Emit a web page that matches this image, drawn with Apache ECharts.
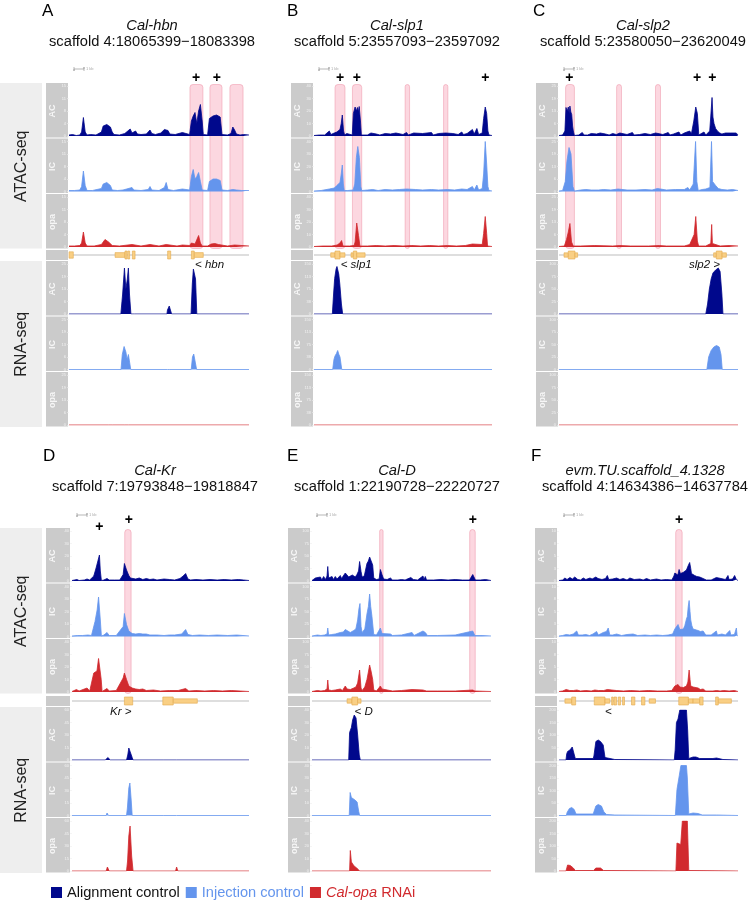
<!DOCTYPE html>
<html>
<head>
<meta charset="utf-8">
<script src="https://cdn.jsdelivr.net/npm/echarts@6/dist/echarts.min.js"></script>
<style>
html, body { margin: 0; padding: 0; background: #fff; }
#chart { width: 748px; height: 900px; }
</style>
</head>
<body>
<div id="chart"></div>
<script>
var letters = ['A', 'B', 'C', 'D', 'E', 'F'];
var geneTitles = ['Cal-hbn', 'Cal-slp1', 'Cal-slp2', 'Cal-Kr', 'Cal-D', 'evm.TU.scaffold_4.1328'];
var regionTitles = [
  'scaffold 4:18065399\u221218083398',
  'scaffold 5:23557093\u221223597092',
  'scaffold 5:23580050\u221223620049',
  'scaffold 7:19793848\u221219818847',
  'scaffold 1:22190728\u221222220727',
  'scaffold 4:14634386\u221214637784'
];
var trackLabels = ['AC', 'IC', 'opa'];
var groupNames = ['Alignment control', 'Injection control', 'Cal-opa RNAi'];

// track axis maxima (tick labels only), signal is % of track height
var atacMax = [15, 40, 25, 40, 100, 10];
var rnaMax = [25, 150, 100, 60, 40, 200];

// [position in window (%), signal (% of track max)]
var hbnAtacAC = [[0,2],[2,3],[4,1],[6,2],[7,8],[8,37],[9,8],[10,2],[12,3],[15,2],[18,8],[19,20],[21,23],[23,18],[24,8],[25,3],[28,2],[31,5],[34,14],[35,6],[37,10],[38,4],[40,3],[43,4],[45,12],[46,5],[48,3],[51,6],[52,10],[53,13],[55,11],[56,4],[59,3],[63,7],[64,3],[67,3],[68,30],[69,40],[70,47],[71,25],[72,50],[73,63],[74,30],[74.6,3],[77,2],[78,35],[80,40],[82,42],[84,38],[85,3],[88,2],[90,5],[91,18],[92,12],[93,4],[95,2],[97,3],[100,2]];
var hbnAtacIC = [[0,2],[3,2],[6,3],[7,10],[8,41],[9,12],[10,2],[13,2],[18,6],[19,15],[21,18],[23,12],[24,3],[27,2],[30,3],[35,8],[36,3],[40,2],[44,4],[45,10],[46,3],[50,2],[53,8],[54,18],[55,4],[58,2],[63,5],[64,2],[67,3],[68,30],[69,44],[70,25],[71,30],[72,38],[73,20],[74,3],[77,2],[78,20],[80,25],[82,25],[84,22],[85,3],[88,2],[91,4],[93,3],[96,2],[100,2]];
var hbnAtacOpa = [[0,2],[3,2],[6,3],[7,8],[8,30],[9,8],[10,2],[14,2],[18,5],[20,15],[22,10],[24,3],[28,2],[35,5],[36,2],[40,2],[45,5],[46,2],[50,2],[54,5],[55,2],[60,2],[63,4],[64,2],[67,3],[68,8],[69,12],[70,6],[71,10],[72,23],[73,8],[74,2],[77,2],[79,6],[81,7],[83,5],[84,2],[88,2],[92,4],[93,2],[100,2]];
var hbnRnaAC = [[0,0],[28.8,0],[29.8,40],[30.8,92],[31.6,50],[32.4,70],[33,92],[33.6,40],[34.4,0],[36.4,0],[36.7,3],[37,0],[54.4,0],[54.7,8],[55.3,10],[55.7,16],[56.6,12],[57,0],[67.8,0],[68.5,60],[69.1,90],[69.6,92],[70.3,70],[71,0],[100,0]];
var hbnRnaIC = [[0,0],[28.9,0],[29.6,30],[30.6,46],[31.6,35],[32.3,20],[33,30],[33.6,28],[34.3,0],[54.7,0],[55.3,3],[56,0],[67.9,0],[68.6,25],[69.3,31],[70.2,28],[70.9,0],[100,0]];
var hbnRnaOpa = [[0,0],[22,0],[23,1],[24,0],[31,0],[32,1],[33,0],[100,0]];

var slp1AtacAC = [[0,1],[3,2],[6,2],[8.6,10],[9.5,3],[11.4,6],[12.8,8],[14.6,13],[15.3,25],[15.9,42],[16.6,10],[17.2,2],[18.4,5],[19.3,2],[21.5,2],[22.1,45],[23.1,58],[23.8,50],[24.4,57],[24.9,48],[25.4,59],[26.1,30],[26.6,2],[30,2],[32,6],[33,2],[35,4],[37,2],[40,5],[41,2],[43,4],[46,6],[47,2],[50,3],[52,7],[53,2],[56,6],[57,2],[61,5],[62,2],[66,7],[67,2],[70,5],[71,2],[74,6],[75,2],[78,5],[79,2],[81,3],[83,8],[84,3],[86,5],[89,13],[90,4],[91.5,15],[92.5,3],[94.5,6],[95.3,35],[96.2,58],[97,45],[97.7,10],[98.3,2],[100,1]];
var slp1AtacIC = [[0,1],[4,2],[8.6,5],[9.5,2],[11.4,7],[12.8,12],[14.6,18],[15.3,35],[15.9,53],[16.5,15],[17,2],[19,2],[22,3],[22.9,15],[23.8,68],[24.6,90],[25.5,68],[26.3,10],[26.8,2],[30,3],[33,4],[36,2],[40,4],[44,3],[48,4],[52,5],[53,2],[57,4],[61,3],[66,4],[70,3],[75,4],[79,3],[83,5],[86,4],[89,10],[90,3],[91.5,13],[92.5,3],[94.5,6],[95.3,35],[96.2,100],[97,55],[97.7,10],[98.3,2],[100,1]];
var slp1AtacOpa = [[0,1],[5,2],[10,2],[13,4],[14.6,8],[15.5,13],[16.3,2],[20,2],[22.5,3],[23.1,10],[24,48],[25,23],[25.8,2],[30,2],[35,3],[40,2],[45,3],[50,2],[55,3],[60,2],[65,3],[70,2],[75,3],[80,2],[85,3],[89,6],[90,2],[94.5,5],[95.3,27],[96.2,61],[97,27],[97.5,2],[100,1]];
var slp1RnaAC = [[0,0],[10.3,0],[11,40],[11.6,71],[12.4,90],[12.9,95],[13.3,98],[13.9,80],[14.5,60],[15.4,20],[16.1,0],[100,0]];
var slp1RnaIC = [[0,0],[10.5,0],[11.2,20],[11.8,27],[12.6,32],[13.3,38],[14,30],[14.6,25],[15.6,0],[100,0]];
var slp1RnaOpa = [[0,0],[100,0]];

var slp2AtacAC = [[0,1],[2,2],[3.3,10],[3.9,57],[4.6,50],[5.2,58],[5.7,45],[6.1,60],[6.6,48],[7.1,43],[7.6,20],[8,10],[8.6,1],[11,2],[13,7],[14,2],[15,6],[16,2],[18,5],[19,2],[21,4],[23,6],[24,2],[26,4],[28,2],[30,5],[32,3],[34,6],[35,2],[38,3],[41,7],[42,2],[45,3],[48,5],[49,2],[51,3],[54,6],[55,2],[58,3],[61,7],[62,2],[64,4],[67,8],[68,2],[70,6],[71,3],[73,10],[74,5],[75.3,30],[76.4,58],[77.3,45],[78.1,2],[79,3],[81,8],[82,2],[84.2,10],[84.8,40],[85.5,77],[86,38],[86.6,25],[87.5,15],[88.5,10],[89.8,6],[91,4],[93,6],[94,2],[96,6],[97,2],[99,6],[100,2]];
var slp2AtacIC = [[0,1],[2,2],[3.5,20],[4.4,60],[5.6,88],[6.7,75],[7.8,10],[8.6,1],[12,3],[15,4],[18,3],[22,3],[25,4],[29,3],[33,5],[34,2],[38,3],[43,3],[48,4],[52,3],[55,6],[56,2],[60,3],[65,4],[70,4],[72,8],[73,3],[75,15],[76.3,100],[77,20],[77.8,2],[80,4],[82,5],[84.3,8],[85.2,100],[85.8,20],[86.8,18],[87.5,12],[89,6],[91,4],[94,3],[97,4],[100,2]];
var slp2AtacOpa = [[0,1],[3,2],[4.2,15],[5.2,30],[6.1,47],[7,10],[8,2],[12,2],[20,3],[30,2],[34,3],[40,2],[50,2],[56,3],[60,2],[70,2],[73,5],[74,3],[75.5,25],[76.4,61],[77.3,12],[78,2],[82,2],[84.8,7],[85.3,45],[85.7,7],[86.5,3],[90,2],[95,3],[100,2]];
var slp2RnaAC = [[0,0],[82,0],[83,20],[84,50],[85,70],[86,82],[87.5,88],[89,92],[90,85],[91,40],[91.6,0],[100,0]];
var slp2RnaIC = [[0,0],[82.6,0],[83.6,25],[85,38],[86.5,45],[88,48],[89.5,45],[90.5,30],[91.2,0],[100,0]];
var slp2RnaOpa = [[0,0],[100,0]];

var krAtacAC = [[0,1],[2.8,3],[4,1],[7,2],[8.5,4],[10,2],[12.3,10],[13.6,26],[14.7,30],[15.5,52],[16,20],[16.6,1],[18,2],[19.8,5],[21,2],[24,2],[27,2],[28.9,13],[29.6,35],[30.8,22],[32.1,11],[33,6],[34,7],[36,4],[38,6],[40,3],[42,5],[44,3],[46,4],[48,2],[52,4],[55,3],[58,2],[61,5],[62.8,10],[64.2,15],[65.5,4],[67,2],[70,3],[74,2],[78,3],[82,2],[86,3],[90,2],[94,3],[97,2],[100,1]];
var krAtacIC = [[0,1],[3,2],[6,2],[9,3],[11,2],[12,5],[13,30],[14.2,53],[15,79],[15.6,82],[16,33],[16.6,1],[18,3],[19.8,8],[21,2],[25,2],[28.9,20],[29.6,46],[30.8,24],[32.1,11],[34,6],[36,5],[38,6],[40,5],[42,5],[44,3],[48,3],[52,2],[55,3],[58,3],[62,5],[64.2,14],[65.5,4],[68,2],[72,3],[77,2],[82,3],[88,2],[93,3],[100,1]];
var krAtacOpa = [[0,1],[2.5,5],[4,2],[8.5,8],[10,2],[11,6],[12.3,38],[14.1,42],[15,67],[15.7,70],[16.5,25],[17,1],[18,3],[19.8,7],[21,2],[25,3],[28.9,28],[29.6,38],[30.8,25],[32.1,12],[34,8],[36,6],[38,5],[40,6],[42,3],[46,4],[50,2],[55,3],[60,3],[64.2,7],[66,2],[70,3],[75,2],[80,3],[85,2],[90,3],[95,2],[100,1]];
var krRnaAC = [[0,0],[18.9,0],[19.5,3],[20.2,5],[21,3],[21.7,0],[30.8,0],[31.5,10],[32.1,24],[33,25],[34,5],[34.5,0],[51.9,0],[52.5,2],[53,0],[59,0],[59.4,2],[60,0],[100,0]];
var krRnaIC = [[0,0],[19.3,0],[19.8,5],[20.6,0],[30.8,0],[31.3,15],[32.1,55],[32.7,65],[33.4,33],[34,0],[51.9,0],[52.3,2],[53,0],[59,0],[59.4,3],[60,0],[100,0]];
var krRnaOpa = [[0,0],[19.3,0],[20,8],[21,0],[30.8,0],[31.4,20],[32.1,70],[32.8,90],[33.7,30],[34.5,0],[58.5,0],[59.1,8],[59.8,0],[100,0]];

var dAtacAC = [[0,1],[1.9,6],[3,2],[4.7,8],[5.5,2],[6.5,9],[7.5,3],[8.4,10],[8.8,29],[9.3,6],[10,2],[11.2,9],[12,3],[13,9],[14,4],[15.8,11],[16.5,5],[18.6,16],[19.6,14],[20.5,8],[21.4,8],[22.5,12],[23.3,11],[24.2,8],[25.1,13],[26,20],[26.6,39],[27.4,19],[28,8],[29.2,10],[30.7,35],[31.5,40],[32.2,48],[33.1,49],[33.9,32],[34.5,6],[36,3],[37.5,4],[38.2,23],[39.1,13],[40,4],[42,3],[43.8,6],[45,2],[48,2],[50,3],[52,2],[55.2,7],[55.9,10],[56.6,3],[59,2],[62,10],[62.6,3],[63.3,9],[64,2],[68,2],[72,3],[76,2],[80,3],[84,2],[88,2],[89.8,13],[91.3,2],[94,2],[97,3],[100,1]];
var dAtacIC = [[0,1],[3,3],[5,2],[7,3],[8.4,5],[8.8,17],[9.3,3],[11,4],[13,5],[15.8,8],[17.5,9],[18.6,14],[19.6,10],[21.4,8],[23.3,12],[24.5,15],[25.5,33],[26.2,55],[26.8,66],[27.4,20],[28,8],[29.5,15],[30.7,45],[31.5,60],[32.2,85],[32.8,60],[33.5,40],[34.5,4],[36,3],[38.2,17],[39.1,6],[40,3],[43.8,5],[45,2],[50,3],[55.9,8],[57,2],[62,11],[63.3,8],[64.5,2],[70,2],[80,3],[89.8,11],[91,2],[95,2],[100,1]];
var dAtacOpa = [[0,1],[3,3],[5,2],[7,3],[8.4,6],[8.8,24],[9.3,4],[11,3],[13,4],[15.8,6],[17,3],[18.6,12],[19.6,6],[21.4,5],[23.3,8],[24.5,10],[25.5,18],[26.6,44],[27.4,8],[28,3],[29.5,10],[30.7,25],[31.5,40],[32.2,54],[33.1,40],[33.9,25],[34.5,4],[36,2],[38.2,12],[39.1,6],[40,2],[45,2],[50,3],[55.9,5],[57,2],[62,4],[64,2],[70,2],[80,2],[89.8,4],[91,2],[100,1]];
var dRnaAC = [[0,0],[20.5,0],[21,55],[21.5,60],[22,65],[22.7,80],[23.6,90],[24.6,84],[25.5,50],[26.4,10],[27,0],[100,0]];
var dRnaIC = [[0,0],[20.8,0],[21.3,46],[22,36],[23,33],[24,31],[25.2,27],[26.1,8],[26.6,0],[100,0]];
var dRnaOpa = [[0,0],[21,0],[21.4,41],[22,18],[23.5,10],[25,6],[26.6,0],[100,0]];

var evmAtacAC = [[0,1],[2,2],[3.3,6],[4.5,3],[6.1,7],[7.5,4],[8.8,8],[9.5,11],[10.5,3],[12,2],[13.6,6],[15,3],[17.3,6],[18.5,4],[19.5,7],[20.6,8],[21.8,5],[22.9,7],[24,3],[26,5],[27,11],[27.8,3],[30,4],[32.2,6],[34,3],[35.9,5],[38,2],[39.6,6],[42,3],[45.2,4],[47,2],[48.9,5],[51,2],[54.5,4],[57,2],[60,3],[63,2],[64.2,10],[64.7,16],[65.6,19],[66.4,12],[67.1,23],[67.8,15],[68.4,13],[69.3,17],[70.3,16],[71.2,22],[72.1,30],[73,37],[73.6,25],[74,15],[75,12],[75.8,11],[77,9],[77.7,12],[78.6,8],[79.6,10],[80.5,5],[82.3,2],[85,2],[87.9,7],[89,3],[90.5,5],[91.6,6],[93,3],[94.4,11],[95,3],[97,4],[98.1,11],[99.1,3],[100,1]];
var evmAtacIC = [[0,1],[2,2],[4,4],[6,3],[8,5],[9.9,11],[10.8,3],[13,3],[15,4],[17,2],[19,5],[21,10],[22,3],[24.7,8],[26.5,10],[27.5,17],[28.4,3],[30,3],[32.2,5],[35,2],[38,4],[41.4,5],[44,2],[48,3],[51,2],[54.5,3],[58,2],[61,3],[63.5,5],[64.7,15],[65.5,18],[66.5,24],[67.5,14],[68.4,11],[69.5,15],[70.3,22],[71.2,35],[71.7,40],[72.2,60],[72.7,72],[73.2,50],[73.6,33],[74.2,22],[74.9,15],[76,11],[77.7,12],[79,10],[80.5,11],[82,3],[85,3],[87.9,11],[88.5,3],[91,5],[91.6,9],[93,3],[95.4,12],[96,3],[98,4],[99.1,17],[99.5,2],[100,1]];
var evmAtacOpa = [[0,1],[2,2],[4,5],[6,3],[8,3],[10,4],[12,2],[15,3],[18,2],[20,4],[21,6],[22,3],[25,3],[27,5],[28,2],[32,3],[36,2],[40,3],[45,2],[50,3],[55,2],[60,2],[63,3],[64.7,12],[65.5,14],[66.5,15],[67.5,10],[68.4,8],[69.5,9],[70.3,10],[71.2,12],[72,20],[72.7,44],[73.2,25],[73.6,12],[74.9,10],[76,7],[77.7,8],[79,5],[80.5,6],[82,2],[86,2],[88,3],[90,2],[92,3],[95,2],[98,3],[100,1]];
var evmRnaAC = [[0,0],[3.9,0],[4.3,12],[4.8,17],[6.1,20],[6.8,22],[7.4,26],[8.4,22],[9.1,3],[9.5,3],[19.1,3],[19.5,8],[20.6,37],[21.9,40],[23.2,37],[24.7,30],[25.7,5],[26.6,2],[31.2,1],[31.5,0],[64.4,0],[64.9,20],[65.6,75],[66.5,82],[67.2,95],[67.5,100],[71.2,100],[71.9,58],[72.5,3],[74.9,6],[76.5,6],[78.6,3],[86,3],[88,4],[91.6,1],[92,0],[100,0]];
var evmRnaIC = [[0,0],[4.1,0],[4.5,6],[5.8,14],[7.1,16],[8.5,12],[9.5,3],[19.1,3],[20.6,19],[21.9,22],[23.7,19],[25.1,7],[26.6,2],[31.2,1],[31.5,0],[65,0],[65.9,52],[67.2,80],[68.1,100],[71.2,100],[71.7,75],[72.5,3],[74.9,5],[77.7,4],[80,1],[88,1],[88.3,0],[100,0]];
var evmRnaOpa = [[0,0],[3.9,0],[4.8,12],[6.3,11],[8,6],[9.1,1],[19.3,1],[20.6,6],[23.2,6],[24.9,1],[25.5,0],[65.3,0],[65.9,56],[67,59],[68,53],[68.9,100],[71.7,100],[72.5,1],[73,0],[100,0]];

// gene models: [start, end, 1 = coding exon, 0.55 = UTR]
var hbnExons = [[0,2.4,0.8],[25.6,31.1,0.6],[31.1,32.2,1],[32.6,33.7,1],[35.2,36.7,1],[54.8,56.5,1],[68,69.6,1],[69.6,74.6,0.6]];
var slp1Exons = [[9.4,11.8,0.55],[11.8,14.6,1],[14.6,17.4,0.55],[20.8,22.1,0.55],[22.1,24,1],[24,28.7,0.55]];
var slp2Exons = [[2.8,5.2,0.55],[5.2,8.9,1],[8.9,10.4,0.55],[86.4,87.9,0.55],[87.9,91.1,1],[91.1,93.5,0.55]];
var krExons = [[29.6,34.3,1],[51.3,57.2,1],[57.2,70.8,0.55]];
var dExons = [[19.6,22.3,0.55],[22.3,25.5,1],[25.5,27.4,0.55]];
var evmExons = [[3.3,7.1,0.55],[7.1,9.3,1],[19.7,25.7,1],[25.7,28.4,0.55],[29.4,30.3,1],[30.7,32.2,1],[33.1,34.4,1],[35.5,36.6,1],[40.5,42.4,1],[46.1,48,1],[50.4,53.9,0.55],[66.9,72.3,1],[72.3,74.9,0.55],[74.9,78.6,0.55],[78.6,80.5,1],[87.5,89,1],[89,96.3,0.55]];

var highlights = [
  [[67.2,74.4],[78.3,85],[89.4,96.7]],
  [[11.8,17.4],[21.6,26.8],[51.2,53.7],[72.8,75.2]],
  [[3.7,8.6],[32.2,34.9],[53.9,56.7]],
  [[29.8,33.4]],
  [[37.8,39.7],[88.1,91.2]],
  [[65.2,68.8]]
];
var plusMarks = [[70.6,82.2],[14.6,24,96.2],[5.8,77.1,85.7],[32.1],[89.8],[67.1]];
var plusMarksLow = [[],[],[],[15.5],[],[]];
var geneLabelText = ['< hbn', '< slp1', 'slp2 >', 'Kr >', '< D', '<'];
var geneLabelPos = [70, 15, 72.6, 21.5, 23.8, 25.7];

var atacTracks = [
  [hbnAtacAC, hbnAtacIC, hbnAtacOpa], [slp1AtacAC, slp1AtacIC, slp1AtacOpa], [slp2AtacAC, slp2AtacIC, slp2AtacOpa],
  [krAtacAC, krAtacIC, krAtacOpa], [dAtacAC, dAtacIC, dAtacOpa], [evmAtacAC, evmAtacIC, evmAtacOpa]
];
var rnaTracks = [
  [hbnRnaAC, hbnRnaIC, hbnRnaOpa], [slp1RnaAC, slp1RnaIC, slp1RnaOpa], [slp2RnaAC, slp2RnaIC, slp2RnaOpa],
  [krRnaAC, krRnaIC, krRnaOpa], [dRnaAC, dRnaIC, dRnaOpa], [evmRnaAC, evmRnaIC, evmRnaOpa]
];
var exonSets = [hbnExons, slp1Exons, slp2Exons, krExons, dExons, evmExons];

// ---- layout ----
var FONT = '"Liberation Sans", Arial, Helvetica, sans-serif';
var COLORS = ['#00088c', '#6495ed', '#d12a2e'];
var PITCH = 55.5;
var panelBoxes = [
  { strip: 46, stripW: 22, left: 69, right: 249 },
  { strip: 291, stripW: 22, left: 314, right: 492 },
  { strip: 536, stripW: 22, left: 559, right: 738 },
  { strip: 46, stripW: 24, left: 72, right: 249 },
  { strip: 288, stripW: 22, left: 312, right: 491 },
  { strip: 535, stripW: 22, left: 559, right: 738 }
];
var rowAtacY = [83, 528];
var rowGeneY = [250, 696];
var rowRnaY = [261, 707];
var rowShift = [0, 445];
var titleX = [152, 397, 643, 155, 397, 645];
var letterX = [42, 287, 533, 43, 287, 531];

function txt(x, y, text, opt) {
  opt = opt || {};
  return {
    type: 'text', x: x, y: y, rotation: opt.rotation || 0, z: opt.z || 20, silent: true,
    style: {
      text: text, fill: opt.color || '#111', fontSize: opt.size || 12, fontFamily: FONT,
      fontStyle: opt.italic ? 'italic' : 'normal', fontWeight: opt.bold ? 'bold' : 'normal',
      align: opt.align || 'center', verticalAlign: 'middle',
      textAlign: opt.align || 'center', textVerticalAlign: 'middle'
    }
  };
}
function box(x, y, w, h, fill, z) {
  return { type: 'rect', silent: true, z: z || 1, shape: { x: x, y: y, width: w, height: h }, style: { fill: fill } };
}
function tickFormatter(max) {
  return function (v) { return Math.round(v * max / 100); };
}
function renderExon(params, api) {
  var a = api.coord([api.value(0), 0]);
  var b = api.coord([api.value(1), 0]);
  var h = api.value(2) * 8;
  return {
    type: 'rect',
    shape: { x: a[0], y: a[1] - h / 2, width: Math.max(b[0] - a[0], 1), height: h },
    style: { fill: '#f9cf84', stroke: '#e3a94e', lineWidth: 0.6 }
  };
}

var grids = [], xAxes = [], yAxes = [], series = [], graphics = [];
var firstAxis = [], geneAxis = [];

for (var r = 0; r < 2; r++) {
  graphics.push(box(0, rowAtacY[r], 42, 3 * PITCH - 1, '#eeeeee', 1));
  graphics.push(box(0, rowRnaY[r], 42, 3 * PITCH - 0.5, '#eeeeee', 1));
  graphics.push(txt(22, rowAtacY[r] + 1.5 * PITCH, 'ATAC-seq', { size: 16, rotation: Math.PI / 2, color: '#222' }));
  graphics.push(txt(22, rowRnaY[r] + 1.5 * PITCH, 'RNA-seq', { size: 16, rotation: Math.PI / 2, color: '#222' }));
}

for (var i = 0; i < 6; i++) {
  var pb = panelBoxes[i];
  var row = i < 3 ? 0 : 1;
  var tracks = atacTracks[i].concat(rnaTracks[i]);

  graphics.push(txt(letterX[i], 11 + rowShift[row], letters[i], { size: 17, align: 'left', color: '#000' }));
  graphics.push(txt(titleX[i], 26 + rowShift[row], geneTitles[i], { size: 14.7, italic: true, color: '#111' }));
  graphics.push(txt(titleX[i], 42 + rowShift[row], regionTitles[i], { size: 14.7, color: '#111' }));

  // 1 kb scale bar
  var sy = row === 0 ? 69 : 515;
  var sx = pb.left + 5;
  graphics.push({ type: 'polyline', silent: true, z: 20, shape: { points: [[sx, sy - 2], [sx, sy + 2], [sx, sy], [sx + 10, sy], [sx + 10, sy - 2], [sx + 10, sy + 2]] }, style: { stroke: '#999', lineWidth: 0.7, fill: null } });
  graphics.push(txt(sx + 12, sy, '1 kb', { size: 4, align: 'left', color: '#aaa' }));

  for (var k = 0; k < 6; k++) {
    var stripTop = k < 3 ? rowAtacY[row] + k * PITCH : rowRnaY[row] + (k - 3) * PITCH;
    var gi = grids.length;
    if (k === 0) firstAxis[i] = gi;
    grids.push({ left: pb.left, width: pb.right - pb.left, top: stripTop + 3, height: 50 });
    xAxes.push({ type: 'value', gridIndex: gi, min: 0, max: 100, show: false });
    yAxes.push({
      type: 'value', gridIndex: gi, min: 0, max: 100, interval: 25, z: 10,
      axisLine: { show: false }, splitLine: { show: false },
      axisTick: { show: true, length: 2, lineStyle: { color: '#eeeeee', width: 0.6 } },
      axisLabel: { fontSize: 4, color: '#f2f2f2', margin: 3, fontFamily: FONT, formatter: tickFormatter(k < 3 ? atacMax[i] : rnaMax[i]) }
    });
    series.push({
      type: 'line', name: groupNames[k % 3], xAxisIndex: gi, yAxisIndex: gi, data: tracks[k],
      symbol: 'none', silent: true, animation: false, z: 5,
      lineStyle: { color: COLORS[k % 3], width: 0.8 },
      itemStyle: { color: COLORS[k % 3] },
      areaStyle: { color: COLORS[k % 3], opacity: 1 }
    });
    graphics.push(box(pb.strip, stripTop, pb.stripW, PITCH - 1, '#cbcbcb', 1));
    graphics.push(txt(pb.strip + 6.5, stripTop + 28, trackLabels[k % 3], { size: 9, bold: true, rotation: Math.PI / 2, color: '#f6f6f6' }));
  }

  // gene model row
  var gg = grids.length;
  geneAxis[i] = gg;
  grids.push({ left: pb.left, width: pb.right - pb.left, top: rowGeneY[row], height: 10 });
  xAxes.push({ type: 'value', gridIndex: gg, min: 0, max: 100, show: false });
  yAxes.push({ type: 'value', gridIndex: gg, min: -1, max: 1, show: false });
  series.push({
    type: 'line', name: 'gene', xAxisIndex: gg, yAxisIndex: gg, data: [[0, 0], [100, 0]],
    symbol: 'none', silent: true, animation: false, lineStyle: { color: '#bdbdbd', width: 1 }
  });
  series.push({
    type: 'custom', name: 'exons', xAxisIndex: gg, yAxisIndex: gg, data: exonSets[i],
    renderItem: renderExon, silent: true, animation: false, z: 5
  });
  graphics.push(box(pb.strip, rowGeneY[row], pb.stripW, 10, '#cbcbcb', 1));
}

var chart = echarts.init(document.getElementById('chart'));
chart.setOption({
  animation: false,
  grid: grids,
  xAxis: xAxes,
  yAxis: yAxes,
  series: series,
  legend: {
    left: 46, top: 880, icon: 'rect', itemWidth: 11, itemHeight: 11, itemGap: 6,
    selectedMode: false,
    textStyle: {
      fontSize: 14.6, fontFamily: FONT,
      rich: { it: { fontStyle: 'italic', fontSize: 14.6, fontFamily: FONT, color: COLORS[2] } }
    },
    formatter: function (name) { return name === 'Cal-opa RNAi' ? '{it|Cal-opa} RNAi' : name; },
    data: [
      { name: groupNames[0], textStyle: { color: '#111' } },
      { name: groupNames[1], textStyle: { color: COLORS[1] } },
      { name: groupNames[2], textStyle: { color: COLORS[2] } }
    ]
  }
});

// highlights (behind the signal), enhancer marks and gene labels placed through the panel x scales
for (var p = 0; p < 6; p++) {
  var rw = p < 3 ? 0 : 1;
  var ax = firstAxis[p];
  highlights[p].forEach(function (h) {
    var x0 = chart.convertToPixel({ xAxisIndex: ax }, h[0]);
    var x1 = chart.convertToPixel({ xAxisIndex: ax }, h[1]);
    graphics.push({
      type: 'rect', silent: true, z: 2,
      shape: { x: x0, y: rowAtacY[rw] + 1.5, width: x1 - x0, height: 3 * PITCH - 2.5, r: 3 },
      style: { fill: 'rgba(248,160,180,0.42)', stroke: 'rgba(236,140,160,0.6)', lineWidth: 0.8 }
    });
  });
  plusMarks[p].forEach(function (v) {
    graphics.push(txt(chart.convertToPixel({ xAxisIndex: ax }, v), rw === 0 ? 78 : 520, '+', { size: 14, bold: true, color: '#000' }));
  });
  plusMarksLow[p].forEach(function (v) {
    graphics.push(txt(chart.convertToPixel({ xAxisIndex: ax }, v), 527, '+', { size: 14, bold: true, color: '#000' }));
  });
  var gx = chart.convertToPixel({ xAxisIndex: geneAxis[p] }, geneLabelPos[p]);
  graphics.push(txt(gx, rw === 0 ? 265 : 712, geneLabelText[p], { size: 11.5, italic: true, align: 'left', color: '#111' }));
}

chart.setOption({ graphic: graphics });
</script>
</body>
</html>
